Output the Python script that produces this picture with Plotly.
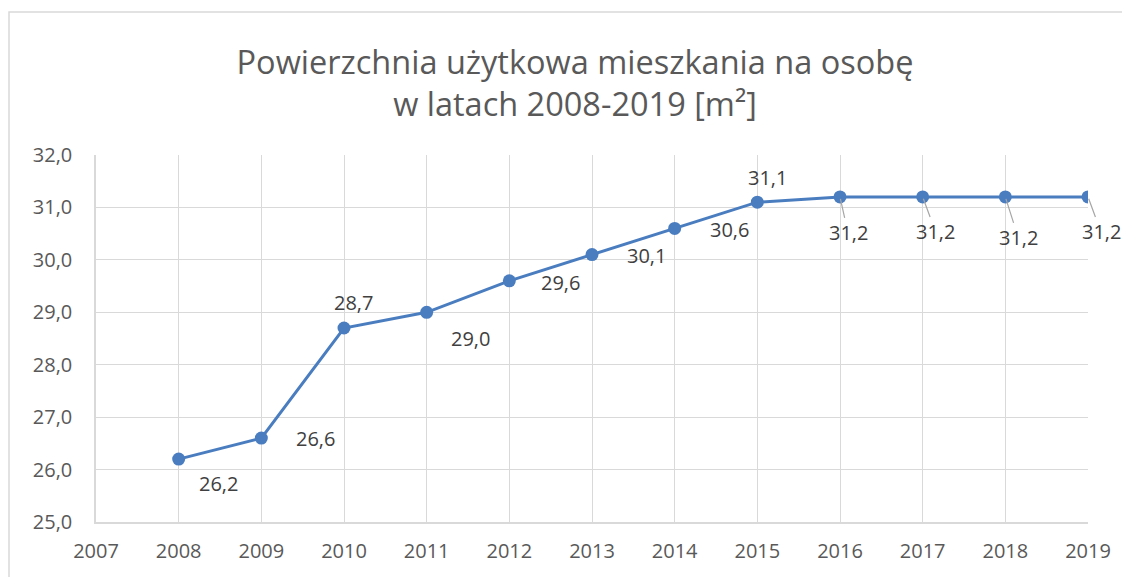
import plotly.graph_objects as go

years = [2008, 2009, 2010, 2011, 2012, 2013, 2014, 2015, 2016, 2017, 2018, 2019]
values = [26.2, 26.6, 28.7, 29.0, 29.6, 30.1, 30.6, 31.1, 31.2, 31.2, 31.2, 31.2]
label_texts = ["26,2", "26,6", "28,7", "29,0", "29,6", "30,1", "30,6", "31,1", "31,2", "31,2", "31,2", "31,2"]
x_ticks = list(range(2007, 2020))
y_ticks = [25, 26, 27, 28, 29, 30, 31, 32]
title_text = "Powierzchnia użytkowa mieszkania na osobę<br>w latach 2008-2019 [m²]"

# label offsets in pixels (styling)
offsets = [(40, 24), (54, 0), (9, -26), (44, 26), (51, 2), (54, 1), (55, 1), (10, -25),
           (8, 36), (13, 35), (13, 41), (13, 35)]
leader = [False] * 8 + [True] * 4

FONT = "Open Sans"
LINE = "#4a7dc0"

# page has 8px body margin: figure is offset by 8px
W, H = 1122, 569
ML, MT, MR, MB = 88, 147, 42, 55
PW, PH = W - ML - MR, H - MT - MB

fig = go.Figure()
fig.add_trace(go.Scatter(
    x=years, y=values, mode="lines+markers",
    line=dict(color=LINE, width=3),
    marker=dict(color=LINE, size=13),
    hoverinfo="skip",
))

for xv, yv, t, (ax, ay), ld in zip(years, values, label_texts, offsets, leader):
    fig.add_annotation(
        x=xv, y=yv, text=t, showarrow=True, ax=ax, ay=ay, axref="pixel", ayref="pixel",
        arrowhead=0, arrowwidth=1.2,
        arrowcolor="#a6a6a6" if ld else "rgba(0,0,0,0)",
        standoff=2 if ld else 0,
        font=dict(family=FONT, size=20, color="#404040"),
    )

# chart border
fig.add_shape(type="rect", xref="paper", yref="paper",
              x0=(1 - ML) / PW, x1=(W + 50 - ML) / PW,
              y0=-0.3, y1=(PH + MT - 4) / PH,
              line=dict(color="#d9d9d9", width=1.5), fillcolor="rgba(0,0,0,0)", layer="below")

fig.update_layout(
    width=W, height=H,
    margin=dict(l=ML, r=MR, t=MT, b=MB),
    paper_bgcolor="white", plot_bgcolor="white",
    separators=", ",
    showlegend=False,
    title=dict(text=title_text, x=567 / W, xref="container", xanchor="center",
               y=1 - 66 / H, yref="container", yanchor="middle",
               font=dict(family=FONT, size=32.5, color="#595959")),
    xaxis=dict(range=[2007, 2019], tickvals=x_ticks, ticktext=[str(v) for v in x_ticks],
               showgrid=True, gridcolor="#d9d9d9", gridwidth=1,
               showline=True, linecolor="#d9d9d9", linewidth=1.5,
               zeroline=False, ticks="outside", ticklen=10, tickcolor="rgba(0,0,0,0)",
               tickfont=dict(family=FONT, size=20, color="#595959")),
    yaxis=dict(range=[25, 32], tickvals=y_ticks, tickformat=".1f",
               showgrid=True, gridcolor="#d9d9d9", gridwidth=1,
               showline=True, linecolor="#d9d9d9", linewidth=1.5,
               zeroline=False, ticks="outside", ticklen=18, tickcolor="rgba(0,0,0,0)",
               tickfont=dict(family=FONT, size=20, color="#595959")),
)

fig.write_html("out.html")
